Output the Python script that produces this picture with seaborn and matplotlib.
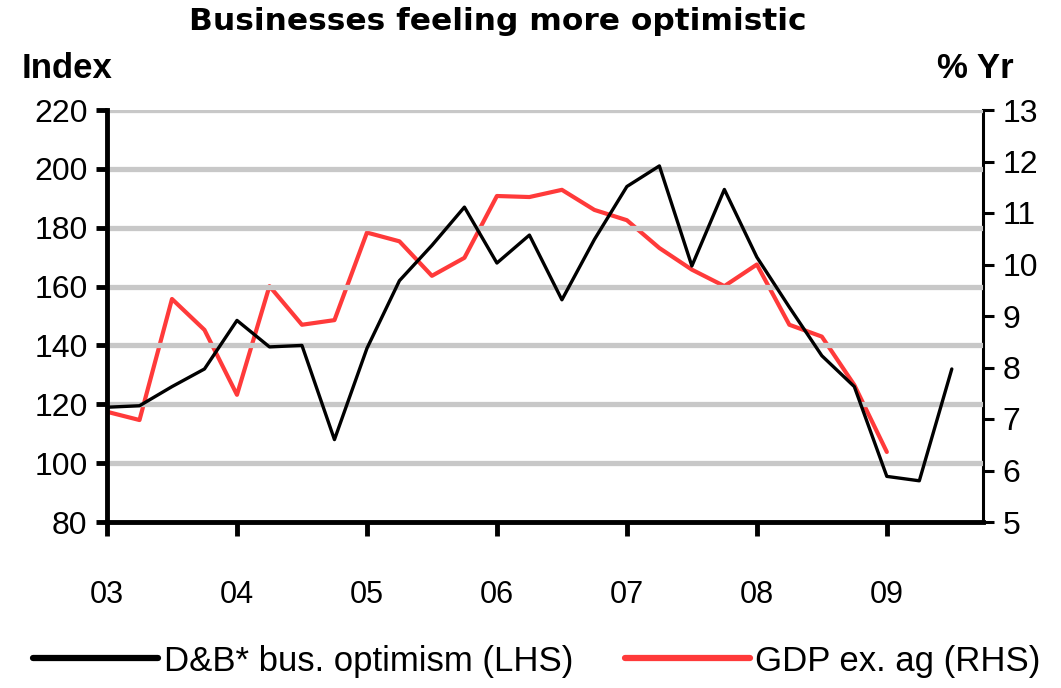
import matplotlib
matplotlib.use("Agg")
import matplotlib.pyplot as plt
import seaborn as sns
import pandas as pd
from matplotlib.lines import Line2D

# ---- data (quarterly, decimal years) ----
db_dates = [2003.0, 2003.25, 2003.5, 2003.75, 2004.0, 2004.25, 2004.5, 2004.75,
            2005.0, 2005.25, 2005.5, 2005.75, 2006.0, 2006.25, 2006.5, 2006.75,
            2007.0, 2007.25, 2007.5, 2007.75, 2008.0, 2008.25, 2008.5, 2008.75,
            2009.0, 2009.25, 2009.5]
db_optimism = [119, 119.5, 126, 132, 148.5, 139.5, 140, 108,
               139, 162, 174, 187, 168, 177.5, 155.5, 176,
               194, 201, 167, 193, 170, 153, 136.5, 126,
               95.5, 94, 132]
gdp_dates = [2003.0, 2003.25, 2003.5, 2003.75, 2004.0, 2004.25, 2004.5, 2004.75,
             2005.0, 2005.25, 2005.5, 2005.75, 2006.0, 2006.25, 2006.5, 2006.75,
             2007.0, 2007.25, 2007.5, 2007.75, 2008.0, 2008.25, 2008.5, 2008.75,
             2009.0]
gdp_ex_ag = [7.14, 6.98, 9.33, 8.73, 7.47, 9.58, 8.83, 8.92,
             10.62, 10.45, 9.78, 10.13, 11.33, 11.31, 11.45, 11.06,
             10.86, 10.32, 9.9, 9.58, 10.0, 8.83, 8.6, 7.66,
             6.36]
x_ticks = [2003, 2004, 2005, 2006, 2007, 2008, 2009]
x_labels = ["03", "04", "05", "06", "07", "08", "09"]
left_ticks = [80, 100, 120, 140, 160, 180, 200, 220]
right_ticks = [5, 6, 7, 8, 9, 10, 11, 12, 13]

title = "Businesses feeling more optimistic"
lbl_db = "D&B* bus. optimism (LHS)"
lbl_gdp = "GDP ex. ag (RHS)"

sns.set_theme(style="white")
plt.rcParams['font.family'] = ["Liberation Sans Narrow", "Liberation Sans", "DejaVu Sans"]
plt.rcParams['text.color'] = "black"
plt.rcParams['xtick.color'] = "black"
plt.rcParams['ytick.color'] = "black"

df_db = pd.DataFrame({"date": db_dates, "value": db_optimism})
df_gdp = pd.DataFrame({"date": gdp_dates, "value": gdp_ex_ag})

fig = plt.figure(figsize=(10.61, 6.88), dpi=100)
ax = fig.add_axes([107/1061, 1-522/688, (983-107)/1061, (522-110)/688])
ax2 = ax.twinx()

BLACK = "#000000"
RED = "#ff3a3a"
GRID = "#c8c8c8"

for v in left_ticks[1:]:
    ax.axhline(v, color=GRID, lw=3.8, zorder=0)

sns.lineplot(data=df_db, x="date", y="value", ax=ax, color=BLACK, lw=2.4,
             legend=False, zorder=3)
sns.lineplot(data=df_gdp, x="date", y="value", ax=ax2, color=RED, lw=3.0,
             legend=False, zorder=2)

ax.set_xlim(2003, 2009.74)
ax.set_ylim(80, 220)
ax2.set_ylim(5, 13)
ax.set_xticks(x_ticks)
ax.set_xticklabels(x_labels)
ax.set_yticks(left_ticks)
ax2.set_yticks(right_ticks)
ax.set_xlabel("")
ax.set_ylabel("")
ax2.set_ylabel("")

ax.set_zorder(ax2.get_zorder() + 1)
ax.patch.set_visible(False)

for a in (ax, ax2):
    a.spines["top"].set_visible(False)
ax.spines["right"].set_visible(False)
ax2.spines["left"].set_visible(False)
ax2.spines["bottom"].set_visible(False)
ax.spines["left"].set_linewidth(3.5)
ax.spines["bottom"].set_linewidth(3.5)
ax2.spines["right"].set_linewidth(2.2)
for s in ("left", "bottom"):
    ax.spines[s].set_color(BLACK)
ax2.spines["right"].set_color(BLACK)

ax.tick_params(axis="y", direction="out", length=8, width=3.5, color=BLACK,
               labelsize=23, pad=6, left=True, labelcolor=BLACK)
ax.tick_params(axis="x", direction="out", length=10, width=3.5, color=BLACK,
               labelsize=22, pad=32, bottom=True, labelcolor=BLACK)
ax2.tick_params(axis="y", direction="out", length=8, width=2.2, color=BLACK,
                labelsize=23, pad=6, right=True, labelcolor=BLACK)

fig.text(498/1061, 1-22/688, title, ha="center", va="center",
         fontsize=22.5, fontweight="bold", family="DejaVu Sans", color=BLACK)
fig.text(22/1061, 1-68/688, "Index", ha="left", va="center",
         fontsize=25, fontweight="bold", color=BLACK)
fig.text(1014/1061, 1-68/688, "% Yr", ha="right", va="center",
         fontsize=25, fontweight="bold", color=BLACK)

handles = [Line2D([], [], color=BLACK, lw=4.5),
           Line2D([], [], color=RED, lw=4.5)]
fig.legend(handles, [lbl_db, lbl_gdp], loc="center", ncol=2,
           bbox_to_anchor=(537/1061, 1-661/688), frameon=False,
           fontsize=25, handlelength=3.6, handletextpad=0.15,
           columnspacing=1.5, labelcolor=BLACK)

fig.savefig("out.png", dpi=100)
